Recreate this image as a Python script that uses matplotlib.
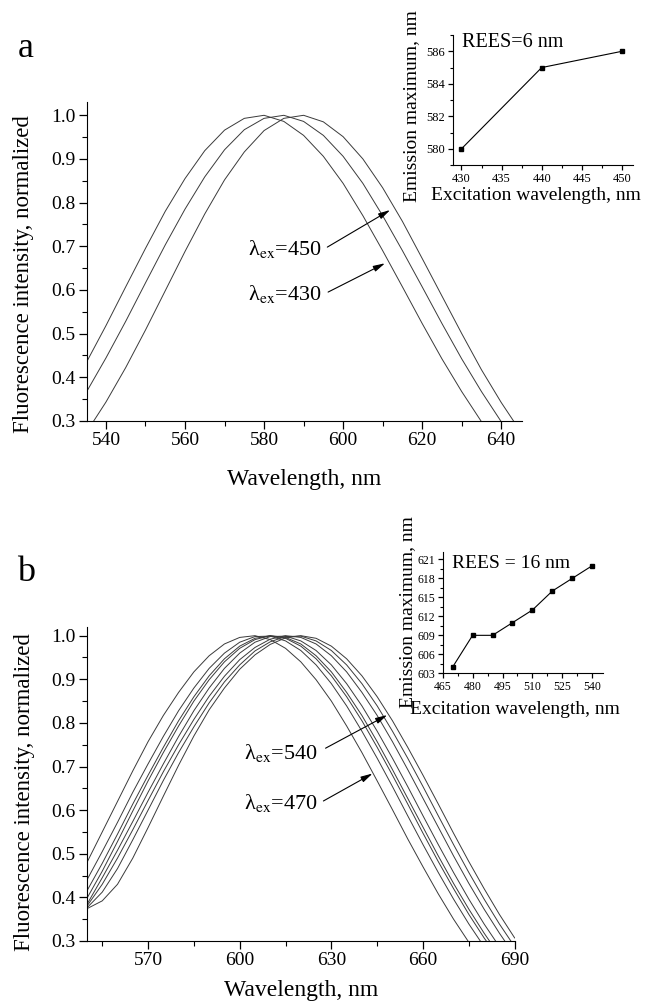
import matplotlib
matplotlib.use('Agg')
import matplotlib.pyplot as plt
from matplotlib.ticker import MultipleLocator

plt.rcParams['font.family'] = ['Liberation Serif', 'DejaVu Serif']
plt.rcParams['mathtext.fontset'] = 'stix'

# panel a: emission spectra, excitation 430 / 440 / 450 nm
wlA = [535, 540, 545, 550, 555, 560, 565, 570, 575, 580, 585, 590,
       595, 600, 605, 610, 615, 620, 625, 630, 635, 640, 645]
specA430 = [0.433, 0.518, 0.607, 0.695, 0.780, 0.855, 0.919, 0.966, 0.993, 1.000, 0.986, 0.954,
            0.906, 0.844, 0.770, 0.690, 0.607, 0.523, 0.442, 0.367, 0.298, 0.238, 0.186]
specA440 = [0.365, 0.444, 0.528, 0.616, 0.703, 0.785, 0.859, 0.921, 0.967, 0.993, 1.000, 0.986,
            0.954, 0.906, 0.844, 0.770, 0.690, 0.607, 0.523, 0.442, 0.367, 0.298, 0.238]
specA450 = [0.273, 0.343, 0.422, 0.508, 0.598, 0.688, 0.774, 0.852, 0.916, 0.965, 0.993, 1.000,
            0.985, 0.951, 0.900, 0.834, 0.757, 0.672, 0.586, 0.500, 0.417, 0.342, 0.274]

# panel b: emission spectra, excitation 470 ... 540 nm
wlB = [550, 555, 560, 565, 570, 575, 580, 585, 590, 595, 600, 605, 610, 615, 620,
       625, 630, 635, 640, 645, 650, 655, 660, 665, 670, 675, 680, 685, 690]
specB470 = [0.480, 0.550, 0.620, 0.690, 0.757, 0.817, 0.870, 0.917, 0.954, 0.981, 0.996, 1.000, 0.991, 0.971, 0.940,
            0.899, 0.850, 0.793, 0.732, 0.667, 0.601, 0.534, 0.470, 0.408, 0.350, 0.297, 0.249, 0.206, 0.168]
specB480 = [0.440, 0.505, 0.572, 0.641, 0.706, 0.769, 0.828, 0.880, 0.925, 0.960, 0.985, 0.998, 0.999, 0.988, 0.966,
            0.933, 0.890, 0.839, 0.781, 0.719, 0.654, 0.587, 0.521, 0.457, 0.396, 0.339, 0.287, 0.240, 0.198]
specB490 = [0.415, 0.478, 0.545, 0.614, 0.680, 0.744, 0.805, 0.860, 0.908, 0.947, 0.976, 0.994, 1.000, 0.994, 0.976,
            0.947, 0.908, 0.860, 0.805, 0.744, 0.680, 0.614, 0.547, 0.482, 0.420, 0.361, 0.307, 0.258, 0.214]
specB500 = [0.398, 0.460, 0.528, 0.598, 0.667, 0.732, 0.793, 0.850, 0.899, 0.940, 0.971, 0.991, 1.000, 0.996, 0.981,
            0.954, 0.917, 0.870, 0.817, 0.757, 0.693, 0.627, 0.561, 0.495, 0.432, 0.373, 0.318, 0.267, 0.222]
specB510 = [0.384, 0.445, 0.508, 0.574, 0.641, 0.706, 0.769, 0.828, 0.880, 0.925, 0.960, 0.985, 0.998, 0.999, 0.988,
            0.966, 0.933, 0.890, 0.839, 0.781, 0.719, 0.654, 0.587, 0.521, 0.457, 0.396, 0.339, 0.287, 0.240]
specB520 = [0.380, 0.430, 0.490, 0.555, 0.622, 0.688, 0.750, 0.808, 0.861, 0.907, 0.945, 0.973, 0.992, 1.000, 0.996,
            0.981, 0.954, 0.917, 0.870, 0.817, 0.757, 0.693, 0.627, 0.561, 0.495, 0.432, 0.373, 0.318, 0.267]
specB530 = [0.376, 0.412, 0.466, 0.532, 0.600, 0.668, 0.732, 0.791, 0.846, 0.894, 0.933, 0.965, 0.986, 0.998, 0.999,
            0.988, 0.966, 0.933, 0.890, 0.839, 0.781, 0.719, 0.654, 0.587, 0.521, 0.457, 0.396, 0.339, 0.287]
specB540 = [0.374, 0.392, 0.430, 0.490, 0.560, 0.632, 0.703, 0.770, 0.830, 0.880, 0.923, 0.956, 0.980, 0.995, 1.000,
            0.994, 0.976, 0.947, 0.908, 0.860, 0.805, 0.744, 0.680, 0.614, 0.547, 0.482, 0.420, 0.361, 0.307]

# insets: emission maximum vs excitation wavelength
exA = [430, 440, 450]
emA = [580, 585, 586]
exB = [470, 480, 490, 500, 510, 520, 530, 540]
emB = [604, 609, 609, 611, 613, 616, 618, 620]

lineColor = '#3a3a3a'

def styleAxes(ax, size, major, minor):
	ax.spines['top'].set_visible(False)
	ax.spines['right'].set_visible(False)
	ax.tick_params(which='major', direction='out', length=major, width=0.9, labelsize=size, pad=2)
	ax.tick_params(which='minor', direction='out', length=minor, width=0.8)

fig = plt.figure(figsize=(6.49, 10.02), dpi=100)

# ---- panel a ----
axA = fig.add_axes([0.134, 0.580, 0.670, 0.318])
for spec in [specA430, specA440, specA450]:
	axA.plot(wlA, spec, color=lineColor, lw=0.7)
axA.set_xlim(535.2, 645.2)
axA.set_ylim(0.3, 1.03)
axA.xaxis.set_major_locator(MultipleLocator(20))
axA.xaxis.set_minor_locator(MultipleLocator(10))
axA.yaxis.set_major_locator(MultipleLocator(0.1))
axA.yaxis.set_minor_locator(MultipleLocator(0.05))
axA.yaxis.set_major_formatter(plt.FormatStrFormatter('%.1f'))
styleAxes(axA, 14, 6, 3.5)
axA.set_xlabel('Wavelength, nm', fontsize=17)
axA.xaxis.set_label_coords(0.5, -0.15)
axA.set_ylabel('Fluorescence intensity, normalized', fontsize=16.5)
axA.yaxis.set_label_coords(-0.121, 0.46)
axA.text(594.7, 0.680, 'λ$_{\\rm ex}$=450', fontsize=16, ha='right', va='baseline')
axA.text(594.7, 0.577, 'λ$_{\\rm ex}$=430', fontsize=16, ha='right', va='baseline')
arrowStyle = dict(arrowstyle='-|>,head_length=0.7,head_width=0.18', lw=0.8, color='k', shrinkA=0, shrinkB=0)
axA.annotate('', xy=(611.9, 0.783), xytext=(596.0, 0.698), arrowprops=arrowStyle)
axA.annotate('', xy=(610.6, 0.661), xytext=(596.2, 0.595), arrowprops=arrowStyle)
fig.text(0.039, 0.952, 'a', fontsize=26, ha='center', va='center')

insA = fig.add_axes([0.6975, 0.8353, 0.278, 0.1297])
insA.plot(exA, emA, color='k', lw=0.8, marker='s', markersize=3.2)
insA.set_xlim(428.9, 451.4)
insA.set_ylim(579, 587)
insA.xaxis.set_major_locator(MultipleLocator(5))
insA.xaxis.set_minor_locator(MultipleLocator(2.5))
insA.yaxis.set_major_locator(MultipleLocator(2))
insA.yaxis.set_minor_locator(MultipleLocator(1))
styleAxes(insA, 9, 3.5, 2)
insA.set_xlabel('Excitation wavelength, nm', fontsize=14)
insA.xaxis.set_label_coords(0.46, -0.17)
insA.set_ylabel('Emission maximum, nm', fontsize=14)
insA.yaxis.set_label_coords(-0.178, 0.45)
insA.text(0.05, 0.94, 'REES=6 nm', transform=insA.transAxes, fontsize=14.5, ha='left', va='center')

# ---- panel b ----
axB = fig.add_axes([0.134, 0.0609, 0.659, 0.3134])
for spec in [specB470, specB480, specB490, specB500, specB510, specB520, specB530, specB540]:
	axB.plot(wlB, spec, color=lineColor, lw=0.7)
axB.set_xlim(550, 690)
axB.set_ylim(0.3, 1.02)
axB.xaxis.set_major_locator(MultipleLocator(30))
axB.xaxis.set_minor_locator(MultipleLocator(15))
axB.yaxis.set_major_locator(MultipleLocator(0.1))
axB.yaxis.set_minor_locator(MultipleLocator(0.05))
axB.yaxis.set_major_formatter(plt.FormatStrFormatter('%.1f'))
styleAxes(axB, 14, 6, 3.5)
axB.set_xticks([570, 600, 630, 660, 690])
axB.set_xlabel('Wavelength, nm', fontsize=17)
axB.xaxis.set_label_coords(0.5, -0.125)
axB.set_ylabel('Fluorescence intensity, normalized', fontsize=16.5)
axB.yaxis.set_label_coords(-0.121, 0.475)
axB.text(625.5, 0.717, 'λ$_{\\rm ex}$=540', fontsize=16, ha='right', va='baseline')
axB.text(625.5, 0.602, 'λ$_{\\rm ex}$=470', fontsize=16, ha='right', va='baseline')
axB.annotate('', xy=(648.3, 0.818), xytext=(628.1, 0.742), arrowprops=arrowStyle)
axB.annotate('', xy=(643.5, 0.684), xytext=(627.4, 0.621), arrowprops=arrowStyle)
fig.text(0.040, 0.429, 'b', fontsize=26, ha='center', va='center')

insB = fig.add_axes([0.6821, 0.328, 0.2465, 0.1214])
insB.plot(exB, emB, color='k', lw=0.8, marker='s', markersize=3.2)
insB.set_xlim(465, 545.2)
insB.set_ylim(603, 622.2)
insB.xaxis.set_major_locator(MultipleLocator(15))
insB.xaxis.set_minor_locator(MultipleLocator(7.5))
insB.yaxis.set_major_locator(MultipleLocator(3))
insB.yaxis.set_minor_locator(MultipleLocator(1.5))
styleAxes(insB, 8.5, 3.5, 2)
insB.set_xlabel('Excitation wavelength, nm', fontsize=14)
insB.xaxis.set_label_coords(0.45, -0.23)
insB.set_ylabel('Emission maximum, nm', fontsize=14)
insB.yaxis.set_label_coords(-0.165, 0.5)
insB.text(0.06, 0.9, 'REES = 16 nm', transform=insB.transAxes, fontsize=14, ha='left', va='center')

fig.savefig('out.png', dpi=100)
